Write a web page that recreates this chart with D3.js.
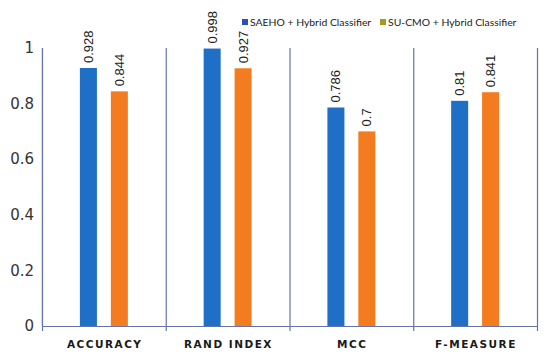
<!DOCTYPE html>
<html>
<head>
<meta charset="utf-8">
<script src="https://cdn.jsdelivr.net/npm/d3@7"></script>
<style>
  body { margin: 0; background: #fff; }
  svg { display: block; }
</style>
</head>
<body>
<svg id="chart"></svg>
<script>
// data
const categories = ['ACCURACY', 'RAND INDEX', 'MCC', 'F-MEASURE'];
const seriesNames = ['SAEHO + Hybrid Classifier', 'SU-CMO + Hybrid Classifier'];
const saeho = [0.928, 0.998, 0.786, 0.81];
const sucmo = [0.844, 0.927, 0.7, 0.841];
const yTicks = [0, 0.2, 0.4, 0.6, 0.8, 1];

const width = 550, height = 363;
const barColors = ['#1f6fc6', '#f47c20'];
const legendColors = ['#2f4fb8', '#a89a1c'];

const svg = d3.select('#chart').attr('width', width).attr('height', height);

const x0 = d3.scaleBand().domain(categories).range([42, 537]);
const x1 = d3.scaleBand().domain(seriesNames)
  .range([0, x0.bandwidth()])
  .paddingInner(0.45)
  .paddingOuter(1.225);
const y = d3.scaleLinear().domain([0, 1]).range([326, 48]);

const rows = categories.map((c, i) => ({ cat: c, vals: [saeho[i], sucmo[i]] }));

// y axis line (light)
svg.append('line')
  .attr('x1', 42).attr('x2', 42)
  .attr('y1', y(1)).attr('y2', y(0))
  .attr('stroke', '#d4d4d4').attr('stroke-width', 1);

// y tick labels
svg.selectAll('.ytick')
  .data(yTicks)
  .enter().append('text')
  .attr('class', 'ytick')
  .attr('x', 34)
  .attr('y', d => y(d))
  .attr('dy', '0.35em')
  .attr('text-anchor', 'end')
  .attr('font-family', 'DejaVu Sans, sans-serif')
  .attr('font-size', 15)
  .attr('fill', '#333')
  .text(d => d);

// category separators
const seps = categories.map(c => x0(c)).concat([x0.range()[1]]);
svg.selectAll('.sep')
  .data(seps)
  .enter().append('line')
  .attr('x1', d => d + 0.5).attr('x2', d => d + 0.5)
  .attr('y1', y(1)).attr('y2', y(0) + 5)
  .attr('stroke', '#6474aa').attr('stroke-width', 1.2);

// bars
const groups = svg.selectAll('.grp')
  .data(rows)
  .enter().append('g')
  .attr('transform', d => `translate(${x0(d.cat)},0)`);

groups.selectAll('rect')
  .data(d => d.vals.map((v, i) => ({ name: seriesNames[i], v, i })))
  .enter().append('rect')
  .attr('x', d => x1(d.name))
  .attr('width', x1.bandwidth())
  .attr('y', d => y(d.v))
  .attr('height', d => y(0) - y(d.v))
  .attr('fill', d => barColors[d.i]);

// value labels, rotated
groups.selectAll('.val')
  .data(d => d.vals.map((v, i) => ({ name: seriesNames[i], v, i })))
  .enter().append('text')
  .attr('transform', d => `translate(${x1(d.name) + x1.bandwidth() / 2 + 4.5},${y(d.v) - 5}) rotate(-90)`)
  .attr('font-family', 'Liberation Sans, Arial, sans-serif')
  .attr('font-size', 13)
  .attr('fill', '#222')
  .text(d => d.v);

// x axis line
svg.append('line')
  .attr('x1', 42).attr('x2', 537)
  .attr('y1', y(0) + 0.5).attr('y2', y(0) + 0.5)
  .attr('stroke', '#6474aa').attr('stroke-width', 1.2);

// category labels
svg.selectAll('.xlab')
  .data(categories)
  .enter().append('text')
  .attr('x', d => x0(d) + x0.bandwidth() / 2 + 0.8)
  .attr('y', 348)
  .attr('text-anchor', 'middle')
  .attr('font-family', 'DejaVu Sans, sans-serif')
  .attr('font-weight', 'bold')
  .attr('font-size', 10.5)
  .attr('letter-spacing', 1.5)
  .attr('fill', '#1a1a1a')
  .text(d => d);

// legend
const legendX = [242, 380];
const legend = svg.selectAll('.leg')
  .data(seriesNames)
  .enter().append('g')
  .attr('transform', (d, i) => `translate(${legendX[i]},19)`);

legend.append('rect')
  .attr('width', 6).attr('height', 6)
  .attr('fill', (d, i) => legendColors[i]);

legend.append('text')
  .attr('x', 8)
  .attr('y', 6.5)
  .attr('font-family', 'Lato, sans-serif')
  .attr('font-size', 10.4)
  .attr('fill', '#222')
  .text(d => d);
</script>
</body>
</html>
